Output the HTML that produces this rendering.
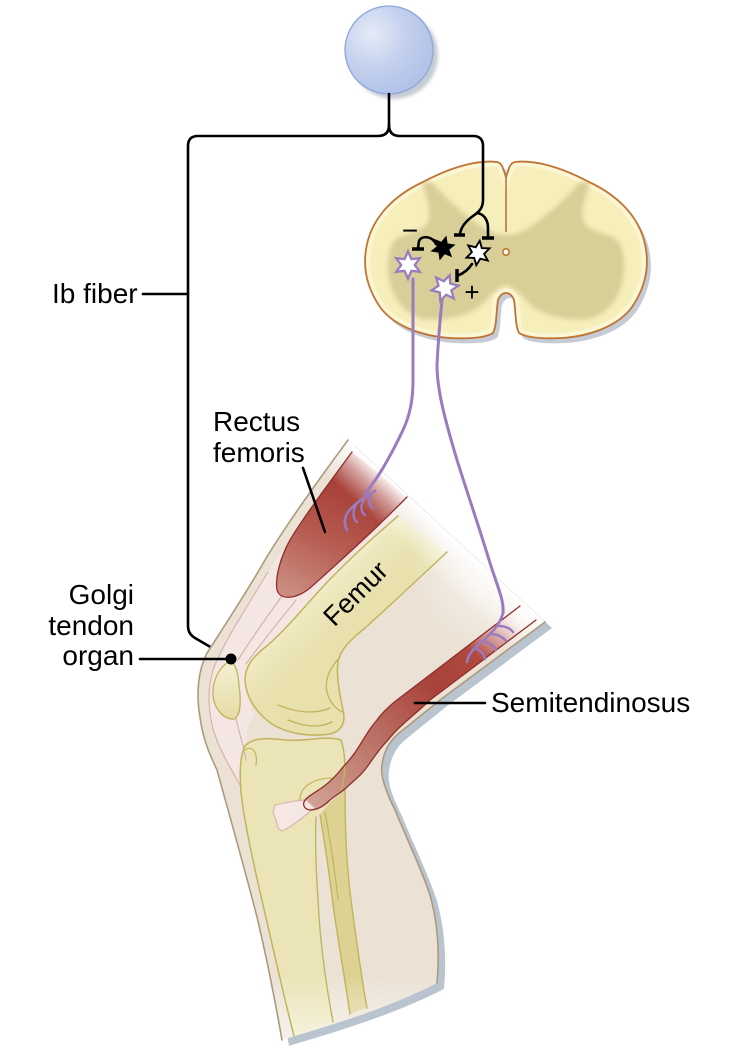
<!DOCTYPE html>
<html><head><meta charset="utf-8">
<style>html,body{margin:0;padding:0;background:#fff;}svg{display:block}</style>
</head><body>
<svg width="738" height="1053" viewBox="0 0 738 1053" xmlns="http://www.w3.org/2000/svg">
<defs>
  <radialGradient id="cirG" cx="372" cy="34" r="62" gradientUnits="userSpaceOnUse">
    <stop offset="0" stop-color="#e6ebf7"/><stop offset="0.55" stop-color="#c3d0ee"/><stop offset="1" stop-color="#b3c3e8"/>
  </radialGradient>
  <filter id="bl2"><feGaussianBlur stdDeviation="2.5"/></filter>
  <filter id="bl1"><feGaussianBlur stdDeviation="1.5"/></filter>
  <clipPath id="cordClip"><path id="cordP" d="M506,177 C503,168 502,163 497,162 C480,160 455,165 423,182 C395,195 375,215 368,240 C362,262 365,285 380,307 C393,325 420,336 450,338 C470,339 485,338 493,333 C497,325 496,312 498,300 C500,295 503,293 506,293 C509,293 512,295 514,300 C516,312 515,325 519,333 C527,338 542,339 562,338 C592,336 619,325 632,307 C647,285 650,262 644,240 C637,215 617,195 589,182 C557,165 532,160 515,162 C510,163 509,168 506,177 Z"/></clipPath>
  <clipPath id="legClip"><path d="M348,440 C320,478 288,522 265,560 C248,590 225,625 207,653 C198,670 196,695 200,717 C203,740 210,755 217,770 C228,810 245,870 257,917 C266,955 275,1000 282,1040 C320,1028 380,1012 437,983 C440,950 437,920 430,895 C420,865 405,835 395,810 C385,790 380,775 382,765 C384,748 392,738 403,730 C415,720 428,710 440,700 L545,622 Z"/></clipPath>
  <linearGradient id="fadeTop" gradientUnits="userSpaceOnUse" x1="446.5" y1="531" x2="419.4" y2="560.4">
    <stop offset="0" stop-color="#fff" stop-opacity="1"/><stop offset="0.4" stop-color="#fff" stop-opacity="0.55"/><stop offset="1" stop-color="#fff" stop-opacity="0"/>
  </linearGradient>
  <radialGradient id="fadeBack" gradientUnits="userSpaceOnUse" cx="505" cy="560" r="95">
    <stop offset="0" stop-color="#fff" stop-opacity="0.8"/><stop offset="1" stop-color="#fff" stop-opacity="0"/>
  </radialGradient>
  <linearGradient id="fadeBot" gradientUnits="userSpaceOnUse" x1="0" y1="975" x2="0" y2="1045">
    <stop offset="0" stop-color="#fff" stop-opacity="0"/><stop offset="1" stop-color="#fff" stop-opacity="0.6"/>
  </linearGradient>
  <linearGradient id="recG" gradientUnits="userSpaceOnUse" x1="340" y1="480" x2="283" y2="597">
    <stop offset="0" stop-color="#a63e37"/><stop offset="0.45" stop-color="#b65a50"/><stop offset="1" stop-color="#cc9285"/>
  </linearGradient>
  <linearGradient id="semG" gradientUnits="userSpaceOnUse" x1="512" y1="610" x2="305" y2="808">
    <stop offset="0" stop-color="#f6ece9"/><stop offset="0.2" stop-color="#b04a40"/><stop offset="0.38" stop-color="#a8423a"/><stop offset="0.7" stop-color="#be786c"/><stop offset="1" stop-color="#d4a498"/>
  </linearGradient>
  <linearGradient id="femG" gradientUnits="userSpaceOnUse" x1="322" y1="565" x2="362" y2="606">
    <stop offset="0" stop-color="#f8f4de"/><stop offset="0.45" stop-color="#eee8bd"/><stop offset="1" stop-color="#e8e0ad"/>
  </linearGradient>
  <linearGradient id="patG" gradientUnits="userSpaceOnUse" x1="0" y1="662" x2="0" y2="720">
    <stop offset="0" stop-color="#f5f0d3"/><stop offset="1" stop-color="#e4dba4"/>
  </linearGradient>
</defs>

<!-- top circle -->
<circle cx="394" cy="55" r="44" fill="#c6ccd4" filter="url(#bl1)"/>
<circle cx="389" cy="50" r="44" fill="url(#cirG)" stroke="#8fa6dc" stroke-width="1.3"/>

<!-- spinal cord -->
<use href="#cordP" transform="translate(4,5)" fill="#c5ccd5"/>
<use href="#cordP" fill="#f6eebb"/>
<g clip-path="url(#cordClip)">
  <use href="#cordP" fill="none" stroke="#fbf6d4" stroke-width="10"/>
  <path filter="url(#bl2)" fill="#d8ce97" d="M506,235 C495,235 485,230 475,222 C462,212 447,200 432,182 L422,182 C426,195 432,210 428,222 C424,232 405,232 395,240 C386,250 386,275 392,290 C398,305 410,317 425,319 C445,321 465,316 478,308 C488,300 492,290 506,285 C520,290 524,300 534,308 C547,316 567,321 587,319 C602,317 614,305 620,290 C626,275 626,250 617,240 C607,232 588,232 584,222 C580,210 586,195 590,182 L580,182 C565,200 550,212 537,222 C527,230 517,235 506,235 Z"/>
</g>
<use href="#cordP" fill="none" stroke="#c07433" stroke-width="1.8"/>
<line x1="506" y1="177" x2="506" y2="232" stroke="#c07433" stroke-width="1.6"/>
<circle cx="506" cy="252" r="3.2" fill="#fff" stroke="#c07433" stroke-width="1.6"/>

<!-- brace / Ib fiber -->
<g fill="none" stroke="#000" stroke-width="2.6" stroke-linecap="round">
  <path d="M389,94 L389,125 Q389,136 378,136 L198,136 Q188,136 188,146 L188,626 Q188,634 195,638 L231,659"/>
  <path d="M389,125 Q389,136 400,136 L473,136 Q483,136 483,146 L483,200 C483,208 479,212 473,216 C466,221 461,227 460,234"/>
  <path d="M477,213 C484,214 488,220 488,228 L488,236"/>
  <path d="M436,244 C432,236 422,235 419,241 L418,248"/>
  <path d="M472,264 C468,270 464,273 459,275"/>
</g>
<g stroke="#000" stroke-width="3.5" stroke-linecap="butt">
  <line x1="454" y1="235" x2="465" y2="235"/>
  <line x1="482" y1="238" x2="494" y2="238"/>
  <line x1="412" y1="249" x2="424" y2="249"/>
  <line x1="457" y1="269" x2="457" y2="282"/>
</g>
<polygon points="0,-13 3.25,-5.63 11.26,-6.5 6.5,0 11.26,6.5 3.25,5.63 0,13 -3.25,5.63 -11.26,6.5 -6.5,0 -11.26,-6.5 -3.25,-5.63" transform="translate(443,248) rotate(15) scale(1.0)" fill="#000"/>
<polygon points="0,-13 3.25,-5.63 11.26,-6.5 6.5,0 11.26,6.5 3.25,5.63 0,13 -3.25,5.63 -11.26,6.5 -6.5,0 -11.26,-6.5 -3.25,-5.63" transform="translate(478,253) rotate(8) scale(0.95)" fill="#fff" stroke="#000" stroke-width="2"/>
<polygon points="0,-13 3.25,-5.63 11.26,-6.5 6.5,0 11.26,6.5 3.25,5.63 0,13 -3.25,5.63 -11.26,6.5 -6.5,0 -11.26,-6.5 -3.25,-5.63" transform="translate(408,265) rotate(0) scale(1.05)" fill="#fff" stroke="#9a7bbf" stroke-width="2.2"/>
<polygon points="0,-13 3.25,-5.63 11.26,-6.5 6.5,0 11.26,6.5 3.25,5.63 0,13 -3.25,5.63 -11.26,6.5 -6.5,0 -11.26,-6.5 -3.25,-5.63" transform="translate(445,288) rotate(20) scale(1.05)" fill="#fff" stroke="#9a7bbf" stroke-width="2.2"/>
<text x="410" y="240" text-anchor="middle" font-family="'Liberation Sans', Arial, sans-serif" font-size="28" fill="#000">−</text>
<text x="472" y="301" text-anchor="middle" font-family="'Liberation Sans', Arial, sans-serif" font-size="26" fill="#000">+</text>

<!-- leg -->
<path transform="translate(7,6)" fill="#bac4ce" d="M348,440 C320,478 288,522 265,560 C248,590 225,625 207,653 C198,670 196,695 200,717 C203,740 210,755 217,770 C228,810 245,870 257,917 C266,955 275,1000 282,1040 C320,1028 380,1012 437,983 C440,950 437,920 430,895 C420,865 405,835 395,810 C385,790 380,775 382,765 C384,748 392,738 403,730 C415,720 428,710 440,700 L545,622 Z"/>
<g clip-path="url(#legClip)">
  <rect x="190" y="430" width="370" height="620" fill="#ebe2d5"/>
  <path fill="#f4e6e2" d="M355,450 C320,500 290,540 268,572 C245,610 222,645 213,670 C207,690 208,715 215,735 C222,755 232,770 242,790 L246,760 L245,746 C246,730 250,720 255,715 C247,700 244,690 245,680 C245,665 255,655 268,645 C285,630 300,612 318,592 C340,568 370,540 398,516 Z"/>
  <path fill="url(#recG)" d="M352,452 C330,482 305,515 290,540 C280,558 275,578 277,590 C280,600 295,600 310,588 C330,570 370,535 407,497 Z"/>
  <path fill="url(#femG)" d="M398,516 L447,552 C415,582 385,610 365,628 C350,640 340,650 338,662 C336,678 340,695 343,710 C346,722 342,731 330,734 C310,737 288,734 272,724 C256,713 246,697 245,680 C245,665 255,655 268,645 C285,630 300,612 318,592 C340,568 370,540 398,516 Z"/>
  <path fill="url(#patG)" d="M230,661 C220,666 212,680 213,695 C214,710 225,720 234,719 C241,716 241,700 239,685 C238,673 236,664 230,661 Z"/>
  <path fill="#ebe4b7" d="M245,746 C238,760 239,790 246,825 C252,860 262,900 270,935 C278,970 286,1005 294,1036 L333,1022 C326,985 320,940 318,900 C316,870 315,840 316,817 C320,810 332,800 341,790 C346,775 346,755 341,740 C325,735 305,742 285,740 C268,738 253,737 245,746 Z"/>
  <path fill="#ddd292" d="M320,815 C326,850 330,880 333,905 C338,940 345,980 350,1014 L367,1008 C361,975 355,930 351,900 C347,870 345,830 345,790 C340,795 330,800 320,815 Z"/>
  <path fill="url(#semG)" d="M520,606 L397,700 C388,707 382,713 377,720 C370,728 366,735 363,740 C356,752 350,760 343,767 C336,776 330,782 323,787 C316,792 310,795 306,799 C302,803 303,809 310,810 C318,810 325,805 330,800 C336,795 342,792 347,787 C355,780 362,774 367,767 C374,757 380,748 388,740 C395,731 403,724 410,718 C418,711 425,705 430,700 L536,620 Z"/>
  <path fill="#f4e7e4" stroke="#d9b8b2" stroke-width="1.2" d="M306,800 C295,800 285,803 275,805 L273,812 L276,820 L278,828 L282,831 C295,825 305,815 315,808 Z"/>
  <rect x="190" y="400" width="400" height="300" fill="url(#fadeTop)"/>
  <rect x="400" y="460" width="200" height="200" fill="url(#fadeBack)"/>
  <rect x="190" y="960" width="300" height="93" fill="url(#fadeBot)"/>
</g>

<!-- leg outlines -->
<g fill="none" stroke-linecap="round" stroke-linejoin="round">
  <path stroke="#ad9a7c" stroke-width="1.6" d="M348,440 C320,478 288,522 265,560 C248,590 225,625 207,653 C198,670 196,695 200,717 C203,740 210,755 217,770 C228,810 245,870 257,917 C266,955 275,1000 282,1040"/>
  <path stroke="#ad9a7c" stroke-width="1.6" d="M437,983 C440,950 437,920 430,895 C420,865 405,835 395,810 C385,790 380,775 382,765 C384,748 392,738 403,730 C415,720 428,710 440,700 L545,622"/>
  <path stroke="#d6b4ac" stroke-width="1.2" d="M268,572 C245,610 222,645 213,670 C207,690 208,715 215,735 C222,755 232,770 240,785"/>
  <path stroke="#d6b4ac" stroke-width="1.2" d="M282,596 C268,615 252,638 238,660"/>
  <path stroke="#d6b4ac" stroke-width="1.2" d="M296,600 C280,620 262,642 246,664"/>
  <path stroke="#d6b4ac" stroke-width="1.2" d="M236,719 C240,735 244,748 246,760"/>
  <path stroke="#8e2f2a" stroke-width="1.3" d="M352,452 C330,482 305,515 290,540 C280,558 275,578 277,590 C280,600 295,600 310,588 C330,570 370,535 407,497"/>
  <path stroke="#c2b45c" stroke-width="1.5" d="M447,552 C415,582 385,610 365,628 C350,640 340,650 338,662 C336,678 340,695 343,710 C346,722 342,731 330,734 C310,737 288,734 272,724 C256,713 246,697 245,680 C245,665 255,655 268,645 C285,630 300,612 318,592 C340,568 370,540 398,516"/>
  <path stroke="#c2b45c" stroke-width="1.3" d="M340,657 C328,670 322,685 330,700 C336,710 342,712 343,712"/>
  <path stroke="#c2b45c" stroke-width="1.3" d="M278,705 C295,712 315,715 330,708"/>
  <path stroke="#c2b45c" stroke-width="1.3" d="M288,720 C305,727 320,728 332,722"/>
  <path stroke="#c2b45c" stroke-width="1.3" d="M230,661 C220,666 212,680 213,695 C214,710 225,720 234,719 C241,716 241,700 239,685 C238,673 236,664 230,661 Z"/>
  <path stroke="#c2b45c" stroke-width="1.5" d="M294,1036 C286,1005 278,970 270,935 C262,900 252,860 246,825 C239,790 238,760 245,746 C253,737 268,738 285,740 C305,742 325,735 341,740 C346,755 346,775 341,790"/>
  <path stroke="#c2b45c" stroke-width="1.4" d="M316,817 C315,840 316,870 318,900 C320,940 326,985 333,1022"/>
  <path stroke="#c2b45c" stroke-width="1.4" d="M320,815 C326,850 330,880 333,905 C338,940 345,980 350,1014"/>
  <path stroke="#c2b45c" stroke-width="1.4" d="M345,790 C345,830 347,870 351,900 C355,930 361,975 367,1008"/>
  <path stroke="#c2b45c" stroke-width="1.2" d="M300,800 C300,786 315,777 336,778"/>
  <path stroke="#c2b45c" stroke-width="1.2" d="M325,812 C330,840 335,870 338,900"/>
  <path stroke="#c2b45c" stroke-width="1.2" d="M245,750 C252,745 258,752 256,765"/>
  <path stroke="#8e2f2a" stroke-width="1.3" d="M520,606 L397,700 C388,707 382,713 377,720 C370,728 366,735 363,740 C356,752 350,760 343,767 C336,776 330,782 323,787 C316,792 310,795 306,799 C302,803 303,809 310,810 C318,810 325,805 330,800 C336,795 342,792 347,787 C355,780 362,774 367,767 C374,757 380,748 388,740 C395,731 403,724 410,718 C418,711 425,705 430,700 L536,620"/>
</g>

<!-- purple motor axons -->
<g fill="none" stroke="#9a7bbf" stroke-linecap="round">
  <path stroke-width="3" d="M413,279 L413,380 C413,400 410,415 403,430 C396,445 390,456 383,468 C377,478 371,486 365,494"/>
  <path stroke-width="2.6" d="M375,491 C365,497 355,503 348,512 C344,518 344,525 347,530"/>
  <path stroke-width="2.4" d="M356,505 C352,512 353,519 357,522"/>
  <path stroke-width="2.4" d="M364,500 C360,506 361,512 365,515"/>
  <path stroke-width="2.4" d="M371,496 C368,501 369,506 373,508"/>
  <path stroke-width="3" d="M442,300 C440,320 438,345 437,365 C437,390 445,420 457,460 C468,495 480,530 490,563 C498,588 504,600 503,613"/>
  <path stroke-width="2.6" d="M503,613 C500,625 490,635 478,645 C472,650 468,656 467,662"/>
  <path stroke-width="2.4" d="M498,626 C505,626 510,628 513,632"/>
  <path stroke-width="2.4" d="M490,634 C497,634 503,637 506,641"/>
  <path stroke-width="2.4" d="M482,641 C488,642 494,645 496,650"/>
  <path stroke-width="2.4" d="M475,648 C480,650 484,654 485,659"/>
</g>

<!-- label leader lines -->
<g stroke="#000" stroke-width="2.6" stroke-linecap="round" fill="none">
  <line x1="143" y1="294" x2="188" y2="294"/>
  <line x1="140" y1="659" x2="231" y2="659"/>
  <line x1="303" y1="468" x2="325" y2="532"/>
  <line x1="415" y1="703" x2="485" y2="703"/>
</g>
<circle cx="231" cy="659" r="5.5" fill="#000"/>

<!-- labels -->
<g font-family="'Liberation Sans', Arial, Helvetica, sans-serif" font-size="28" fill="#000">
  <text x="52" y="303">Ib fiber</text>
  <text x="213" y="431">Rectus</text>
  <text x="213" y="462">femoris</text>
  <text x="134" y="604" text-anchor="end">Golgi</text>
  <text x="134" y="635" text-anchor="end">tendon</text>
  <text x="134" y="665" text-anchor="end">organ</text>
  <text x="491" y="712">Semitendinosus</text>
  <text x="362" y="600" text-anchor="middle" font-size="27" transform="rotate(-45 362 600)">Femur</text>
</g>
</svg>
</body></html>
